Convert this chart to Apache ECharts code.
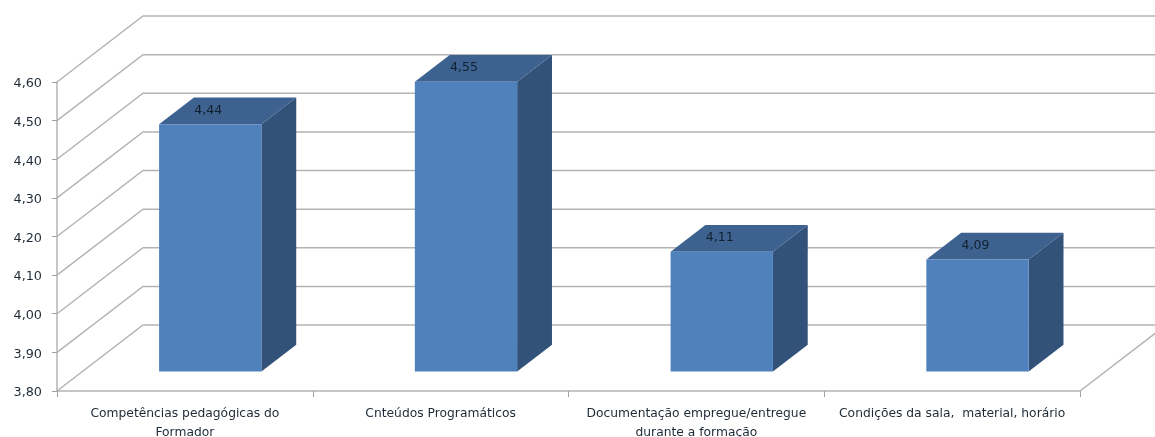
<!DOCTYPE html>
<html><head><meta charset="utf-8">
<style>html,body{margin:0;padding:0;background:#fff}#c{width:1155px;height:437px}</style>
<script src="https://cdn.jsdelivr.net/npm/echarts@6/dist/echarts.min.js"></script>
</head><body><div id="c"></div>
<script>
const categories = ["Competências pedagógicas do\nFormador","Cnteúdos Programáticos","Documentação empregue/entregue\ndurante a formação","Condições da sala,  material, horário"];
const values = [4.44,4.55,4.11,4.09];
const yTicks = [3.8,3.9,4.0,4.1,4.2,4.3,4.4,4.5,4.6];
const axisMin = 3.8, axisMax = 4.6, axisStep = 0.1;
const wallDX = 86, wallDY = -66;
const barNear = 0.295, barFar = 0.70, barShare = 0.4;
const GRID = '#b4b4b4', TXT = '#1f2a36';
const fmt = v => v.toFixed(2).replace('.', ',');

const chart = echarts.init(document.getElementById('c'), null, {renderer:'canvas'});
chart.setOption({
  animation:false,
  backgroundColor:'#fff',
  grid:{left:57,right:75,top:82,bottom:46,outerBoundsMode:'none',containLabel:false},
  xAxis:{type:'category',data:categories,boundaryGap:true,
    axisLine:{lineStyle:{color:GRID,width:1.5}},
    axisTick:{show:true,length:6,alignWithLabel:false,lineStyle:{color:'#a0a0a0'}},
    axisLabel:{interval:0,color:TXT,fontFamily:'DejaVu Sans',fontSize:12.3,lineHeight:19,margin:13}},
  yAxis:{type:'value',min:axisMin,max:axisMax,interval:axisStep,
    splitLine:{show:false},
    axisLine:{show:true,lineStyle:{color:GRID,width:1.5}},
    axisTick:{show:true,length:5,lineStyle:{color:'#a0a0a0'}},
    axisLabel:{color:TXT,fontFamily:'DejaVu Sans',fontSize:12.8,margin:15,verticalAlign:'top',lineHeight:4,formatter:fmt}},
  series:[
    {type:'custom',clip:false,silent:true,z:1,encode:{x:0,y:1},
     data:yTicks.map(t=>[0,t]),
     renderItem(p,api){
       const cs=p.coordSys, y=api.coord([0,api.value(1)])[1];
       const x0=cs.x, x1=cs.x+cs.width;
       const children=[{type:'polyline',shape:{points:[[x0,y],[x0+wallDX,y+wallDY],[x1+wallDX,y+wallDY]]},
         style:{fill:null,stroke:GRID,lineWidth:1.5}}];
       if(api.value(1)===axisMin) children.push({type:'line',shape:{x1:x1,y1:y,x2:x1+wallDX,y2:y+wallDY},style:{stroke:GRID,lineWidth:1.5}});
       return {type:'group',children};
     }},
    {type:'custom',clip:false,silent:true,z:2,encode:{x:0,y:1},
     data:values.map((v,i)=>[i,v]),
     renderItem(p,api){
       const i=api.value(0), v=api.value(1);
       const top=api.coord([i,v]), base=api.coord([i,axisMin]);
       const w=api.size([1,0])[0]*barShare;
       const nx=top[0]+wallDX*barNear-w/2, ny=wallDY*barNear;
       const d=barFar-barNear, fx=wallDX*d, fy=wallDY*d;
       const L=nx,R=nx+w,T=top[1]+ny,B=base[1]+ny;
       return {type:'group',children:[
         {type:'polygon',shape:{points:[[R,T],[R+fx,T+fy],[R+fx,B+fy],[R,B]]},style:{fill:'#325279'}},
         {type:'polygon',shape:{points:[[L,T],[L+fx,T+fy],[R+fx,T+fy],[R,T]]},style:{fill:'#3d6290'}},
         {type:'rect',shape:{x:L,y:T,width:w,height:B-T},style:{fill:'#4f81bd'}},
         {type:'text',style:{x:(L+R)/2-2,y:T-14,text:fmt(v),fill:'#10202f',font:'12.5px "DejaVu Sans"',align:'center',verticalAlign:'middle'}}
       ]};
     }}
  ]
});
</script></body></html>
